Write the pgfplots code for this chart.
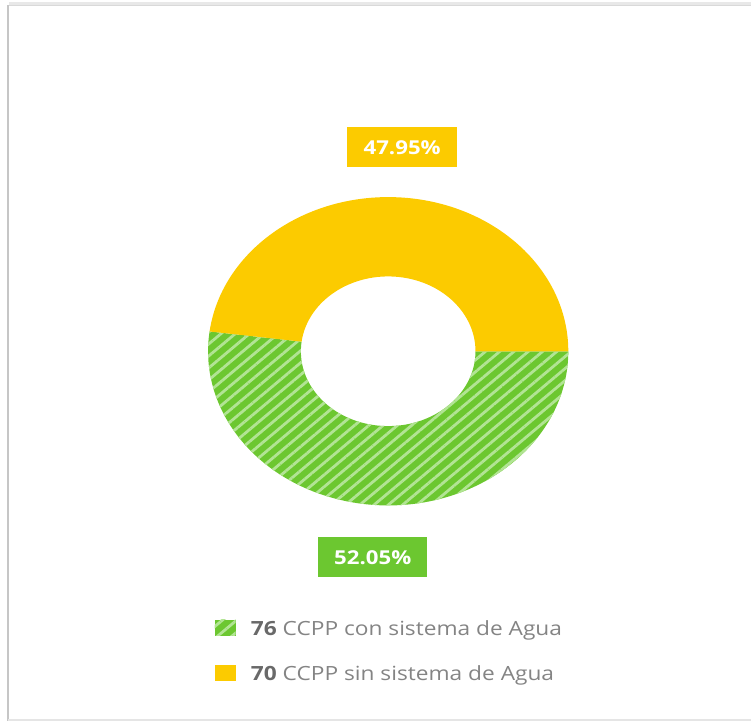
\documentclass[border=0pt]{standalone}
\usepackage{pgfplots}
\pgfplotsset{compat=1.18}
\usepackage{pgfplotstable}
\usetikzlibrary{patterns.meta}
\usepackage{fontspec}
\setmainfont{Open Sans}

\definecolor{ygold}{RGB}{252,203,0}
\definecolor{gbase}{RGB}{108,199,48}
\definecolor{gstripe}{RGB}{178,228,148}
\definecolor{txtgray}{RGB}{132,132,132}
\definecolor{numgray}{RGB}{105,105,105}

% share of each group (%) and number of CCPP
\pgfplotstableread{
grupo pct n
con 52.05 76
sin 47.95 70
}\donut

\pgfplotstablegetelem{0}{pct}\of\donut \let\pA\pgfplotsretval
\pgfplotstablegetelem{1}{pct}\of\donut \let\pB\pgfplotsretval
\pgfplotstablegetelem{0}{n}\of\donut \let\nA\pgfplotsretval
\pgfplotstablegetelem{1}{n}\of\donut \let\nB\pgfplotsretval
\pgfmathsetmacro\aA{3.6*\pA}
\pgfmathsetmacro\aB{3.6*\pB}

% ring geometry in pixel units (1px = 0.5pt)
\def\cx{389}\def\cy{352}
\def\rox{180.5}\def\roy{154.5}
\def\rix{87.5}\def\riy{75}

\tikzset{hatch/.style={fill=gbase, postaction={pattern={Lines[angle=40,distance=4.6pt,line width=1.4pt]}, pattern color=gstripe}}}

\begin{document}
\begin{tikzpicture}
\begin{axis}[
  width=376.5pt, height=361.5pt, scale only axis,
  xmin=0, xmax=753, ymin=0, ymax=723, y dir=reverse,
  hide axis, clip=false,
  font=\fontsize{9.8pt}{11pt}\selectfont]
\addplot[draw=none] coordinates {(0,0)};

% frame
\draw[gray!18, line width=1.6pt] (axis cs:9,4) -- (axis cs:753,4);
\draw[gray!30, line width=0.6pt] (axis cs:8,5.5) -- (axis cs:753,5.5);
\draw[gray!45, line width=1.4pt] (axis cs:8,5) -- (axis cs:8,723);
\draw[gray!20, line width=0.6pt] (axis cs:8,721.5) -- (axis cs:753,721.5);

% green slice (clockwise from 3 o'clock)
\fill[hatch]
  (axis cs:{\cx+\rox},\cy) arc[start angle=0, end angle=-\aA, x radius=\rox*0.5pt, y radius=\roy*0.5pt]
  -- (axis cs:{\cx+\rix*cos(\aA)},{\cy+\riy*sin(\aA)})
  arc[start angle=-\aA, end angle=0, x radius=\rix*0.5pt, y radius=\riy*0.5pt] -- cycle;

% yellow slice
\fill[ygold]
  (axis cs:{\cx+\rox},\cy) arc[start angle=0, end angle=\aB, x radius=\rox*0.5pt, y radius=\roy*0.5pt]
  -- (axis cs:{\cx+\rix*cos(\aA)},{\cy+\riy*sin(\aA)})
  arc[start angle=\aB, end angle=0, x radius=\rix*0.5pt, y radius=\riy*0.5pt] -- cycle;

% value labels
\fill[ygold] (axis cs:348,127) rectangle (axis cs:458,167);
\node[white, xscale=1.16, font=\fontsize{9.6pt}{11pt}\selectfont\bfseries] at (axis cs:403,148) {\pB\%};
\fill[gbase] (axis cs:319,538) rectangle (axis cs:428,578);
\node[white, xscale=1.16, font=\fontsize{9.6pt}{11pt}\selectfont\bfseries] at (axis cs:373.5,559) {\pA\%};

% legend
\fill[hatch] (axis cs:215,621) rectangle (axis cs:236,637);
\node[anchor=base west, xscale=1.16, txtgray, inner sep=0pt] at (axis cs:251,637)
  {\textcolor{numgray}{\bfseries\nA} CCPP con sistema de Agua};
\fill[ygold] (axis cs:215,666) rectangle (axis cs:236,682);
\node[anchor=base west, xscale=1.16, txtgray, inner sep=0pt] at (axis cs:251,682)
  {\textcolor{numgray}{\bfseries\nB} CCPP sin sistema de Agua};
\end{axis}
\end{tikzpicture}
\end{document}
